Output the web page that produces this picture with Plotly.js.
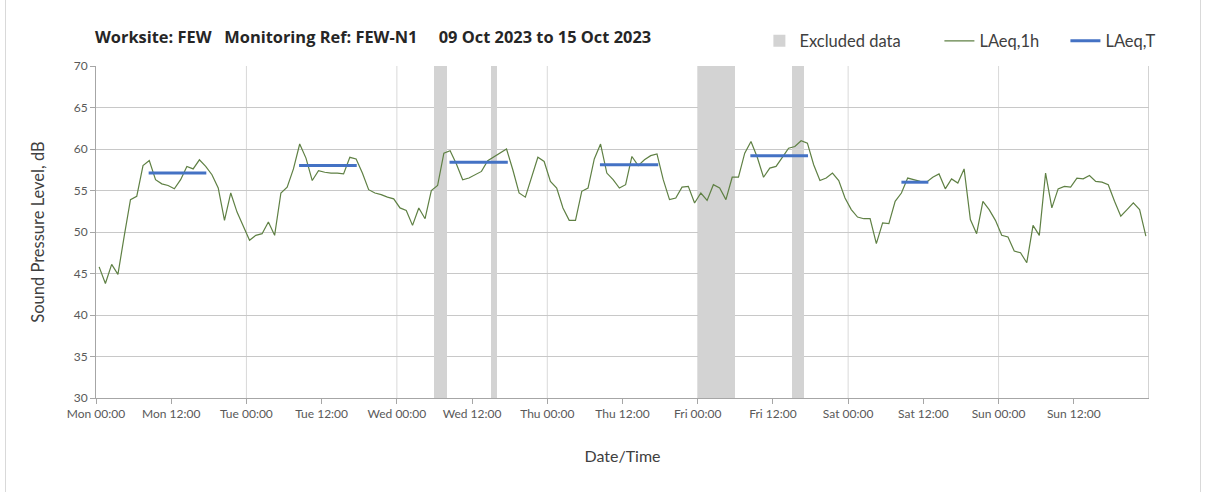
<!DOCTYPE html>
<html>
<head>
<meta charset="utf-8">
<script src="https://cdn.plot.ly/plotly-3.0.1.min.js"></script>
<style>
  html, body { margin: 0; padding: 0; background: #ffffff; }
  #wrap { position: relative; width: 1208px; height: 492px; }
  #frame { position: absolute; left: 5px; top: 0; width: 1196px; height: 492px;
           border-left: 1px solid #d9d9d9; border-right: 1px solid #d9d9d9; box-sizing: border-box; pointer-events: none; }
  #chart { position: absolute; left: 0; top: 0; width: 1208px; height: 492px; }
</style>
</head>
<body>
<div id="wrap"><div id="chart"></div><div id="frame"></div></div>
<script>
// ---- Data ----
// Hourly LAeq,1h values (dB), one per hour starting Mon 09 Oct 2023 00:00
const laeq1h = [
  45.8, 43.8, 46.1, 44.9, 49.5, 53.9, 54.3, 58.0, 58.6, 56.3, 55.8, 55.6,
  55.2, 56.3, 57.9, 57.6, 58.7, 57.9, 56.9, 55.3, 51.4, 54.7, 52.4, 50.8,
  49.0, 49.6, 49.8, 51.2, 49.6, 54.7, 55.4, 57.6, 60.6, 58.9, 56.2, 57.4,
  57.2, 57.1, 57.1, 57.0, 59.0, 58.8, 57.1, 55.1, 54.7, 54.5, 54.2, 54.0,
  52.9, 52.6, 50.8, 52.9, 51.6, 55.0, 55.6, 59.5, 59.8, 58.2, 56.3, 56.5,
  56.9, 57.3, 58.6, 59.1, 59.6, 60.0, 57.5, 54.7, 54.2, 56.7, 59.0, 58.5,
  56.1, 55.3, 52.9, 51.4, 51.4, 54.9, 55.3, 58.8, 60.6, 57.1, 56.3, 55.3,
  55.7, 59.1, 58.0, 58.7, 59.2, 59.4, 56.3, 53.9, 54.1, 55.4, 55.5, 53.5,
  54.7, 53.8, 55.7, 55.3, 53.9, 56.6, 56.6, 59.5, 60.9, 59.0, 56.6, 57.7,
  57.9, 59.0, 60.1, 60.3, 61.0, 60.7, 58.1, 56.2, 56.5, 57.1, 56.2, 54.1,
  52.7, 51.8, 51.6, 51.6, 48.6, 51.1, 51.0, 53.7, 54.7, 56.5, 56.3, 56.1,
  56.0, 56.6, 57.0, 55.2, 56.4, 55.9, 57.6, 51.5, 49.8, 53.7, 52.7, 51.4,
  49.6, 49.4, 47.7, 47.5, 46.3, 50.8, 49.6, 57.1, 52.9, 55.2, 55.5, 55.4,
  56.5, 56.4, 56.8, 56.1, 56.0, 55.7, 53.7, 51.9, 52.7, 53.5, 52.7, 49.5
];

// LAeq,T periods (hours from Mon 00:00) and values
const periodStart = [8.4, 32.4, 56.4, 80.4, 104.4, 128.5];
const periodEnd   = [17.6, 41.6, 65.7, 89.7, 113.6, 132.8];
const laeqT       = [57.1, 58.0, 58.4, 58.1, 59.2, 56.0];

// Excluded data periods (hours from Mon 00:00)
const excludedStart = [54, 63, 96, 111];
const excludedEnd   = [56, 64, 102, 113];

// Axis tick labels (every 12 h)
const tickHours  = [0, 12, 24, 36, 48, 60, 72, 84, 96, 108, 120, 132, 144, 156];
const tickLabels = ["Mon 00:00", "Mon 12:00", "Tue 00:00", "Tue 12:00", "Wed 00:00", "Wed 12:00",
                    "Thu 00:00", "Thu 12:00", "Fri 00:00", "Fri 12:00", "Sat 00:00", "Sat 12:00",
                    "Sun 00:00", "Sun 12:00"];
const dayBoundaries = [24, 48, 72, 96, 120, 144, 168];

const titleText = "Worksite: FEW\u00a0\u00a0\u00a0Monitoring Ref: FEW-N1\u00a0\u00a0\u00a0\u00a0\u00a009 Oct 2023 to 15 Oct 2023";
const seriesNames = ["Excluded data", "LAeq,1h", "LAeq,T"];

// ---- Build traces ----
const hourX = laeq1h.map((_, i) => i + 0.5);

const tX = [], tY = [];
periodStart.forEach((s, i) => {
  tX.push(s, periodEnd[i], null);
  tY.push(laeqT[i], laeqT[i], null);
});

const pad = n => '\u00a0'.repeat(n);
const yMin = 30, yMax = 70;
const excl = {
  type: 'bar',
  name: seriesNames[0] + pad(8),
  x: excludedStart.map((s, i) => (s + excludedEnd[i]) / 2),
  width: excludedStart.map((s, i) => excludedEnd[i] - s),
  y: excludedStart.map(() => yMax - yMin),
  base: yMin,
  marker: { color: '#d3d3d3', line: { width: 0 } },
  hoverinfo: 'skip'
};

const line1h = {
  type: 'scatter', mode: 'lines', name: seriesNames[1] + pad(5),
  x: hourX, y: laeq1h,
  line: { color: '#5f8044', width: 1.2 }
};

const lineT = {
  type: 'scatter', mode: 'lines', name: seriesNames[2],
  x: tX, y: tY, connectgaps: false,
  line: { color: '#4472c4', width: 3 }
};

const shapes = dayBoundaries.map(d => ({
  type: 'line', xref: 'x', yref: 'y', x0: d, x1: d, y0: yMin, y1: yMax,
  line: { color: d === 168 ? '#a6a6a6' : '#d9d9d9', width: 1 }, layer: 'below'
}));

const FONT = 'Lato, "Open Sans", sans-serif';
const TFONT = '"Open Sans", Lato, sans-serif';

const layout = {
  width: 1208, height: 492,
  paper_bgcolor: '#ffffff', plot_bgcolor: '#ffffff',
  margin: { l: 96, r: 59, t: 66, b: 94 },
  font: { family: FONT, color: '#404040' },
  title: {
    text: '<b>' + titleText + '</b>',
    x: 95 / 1208, xref: 'container', xanchor: 'left',
    y: 1 - 37 / 492, yref: 'container', yanchor: 'middle',
    font: { size: 16.4, color: '#262626', family: TFONT }
  },
  showlegend: true,
  legend: {
    orientation: 'h', x: 0.63, xanchor: 'left', y: 1.075, yanchor: 'middle',
    font: { size: 16.5, color: '#404040', family: FONT },
    traceorder: 'normal', bgcolor: 'rgba(0,0,0,0)'
  },
  bargap: 0,
  xaxis: {
    range: [0, 168], tickmode: 'array', tickvals: tickHours, ticktext: tickLabels,
    showgrid: false, zeroline: false,
    showline: true, linecolor: '#a6a6a6', linewidth: 1,
    ticks: 'outside', ticklen: 5, tickcolor: '#a6a6a6',
    tickfont: { size: 12, color: '#595959', family: FONT },
    title: { text: 'Date/Time', font: { size: 16, color: '#404040', family: FONT }, standoff: 30 }
  },
  yaxis: {
    range: [yMin, yMax], dtick: 5, tick0: 30,
    showgrid: true, gridcolor: '#c8c8c8', gridwidth: 1, zeroline: false,
    showline: true, linecolor: '#a6a6a6', linewidth: 1,
    ticks: 'outside', ticklen: 5, tickcolor: '#a6a6a6',
    tickfont: { size: 12, color: '#595959', family: FONT },
    title: { text: 'Sound Pressure Level, dB', font: { size: 16.5, color: '#404040', family: FONT }, standoff: 24 }
  },
  shapes: shapes
};

Plotly.newPlot('chart', [excl, line1h, lineT], layout, { displayModeBar: false, staticPlot: true });
</script>
</body>
</html>
